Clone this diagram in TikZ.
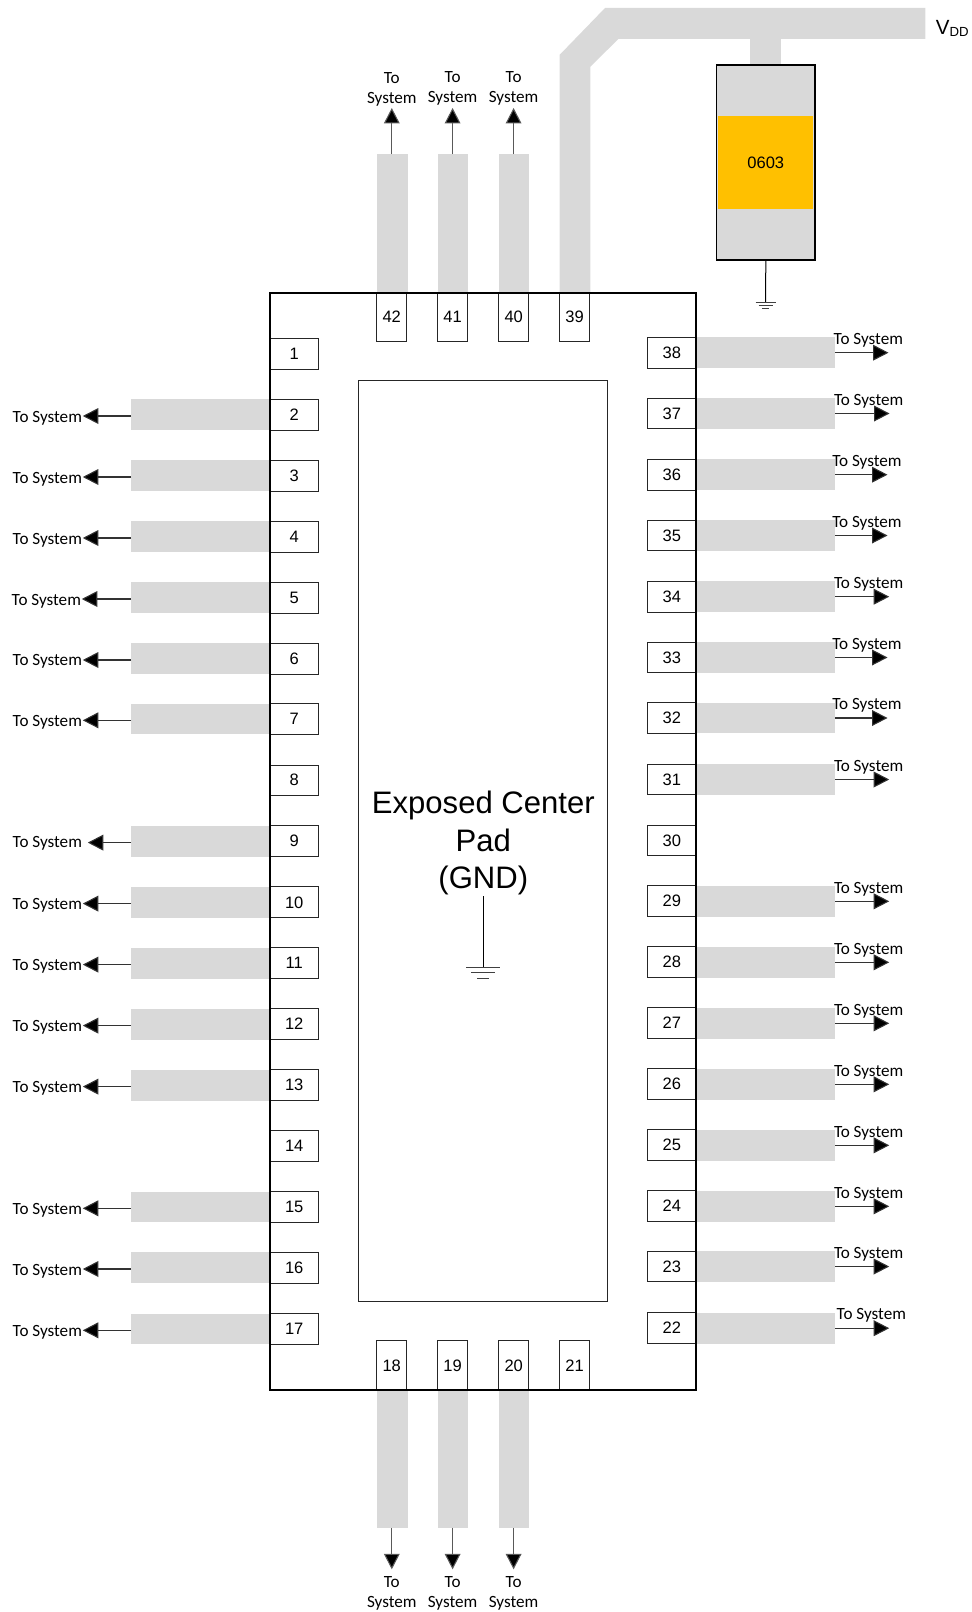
\documentclass[tikz,border=0pt]{standalone}
\usepackage{fontspec}
\setmainfont{Liberation Sans}
\newfontfamily\sysfont{Carlito}
\usetikzlibrary{arrows.meta}
\definecolor{tracegray}{HTML}{D9D9D9}
\definecolor{bodyorange}{HTML}{FFC000}
\def\px{0.75pt}
\tikzset{
  x=0.75pt,y=-0.75pt,
  tracebar/.style={fill=tracegray,draw=none,inner sep=0pt,outer sep=0pt},
  pinbox/.style={draw=black!85,fill=white,line width=0.75pt,inner sep=0pt,outer sep=0pt,
    font=\fontsize{12.4}{14}\selectfont},
  hpin/.style={pinbox,minimum width=49*\px,minimum height=30.7*\px},
  vpin/.style={pinbox,minimum width=30.5*\px,minimum height=49*\px},
  htrace/.style={tracebar,minimum width=139*\px,minimum height=30.7*\px},
  vtrace/.style={tracebar,minimum width=30.7*\px,minimum height=138*\px},
  systext/.style={inner sep=0pt,outer sep=0pt,font=\sysfont\fontsize{12.85}{14}\selectfont},
  syslabel/.style={systext,anchor=base west},
  sysword/.style={systext,anchor=base},
  sysarrow/.style={draw=black!80,line width=0.8pt,-{Triangle[length=11.6pt,width=11.8pt,fill=black]}},
  groundbar/.style={draw=black!75,line width=0.75pt},
  groundlead/.style={draw=black,line width=0.75pt},
}
\begin{document}
\begin{tikzpicture}
\useasboundingbox (0,0) rectangle (971,1612);
% supply trace
\fill[tracegray] (559.5,292.3) -- (559.5,55) -- (605,8) -- (925.3,8) -- (925.3,39) -- (618.4,39) -- (590.3,66.7) -- (590.3,292.3) -- cycle;
\node[tracebar,minimum width=31*\px,minimum height=26*\px] (vddstub) at (765.8,52) {};
% left traces
\foreach \n/\y in {2/414.7,3/475.7,4/536.7,5/597.7,6/658.7,7/719,9/841.3,10/902.3,11/963.3,12/1024.3,13/1085.3,15/1207,16/1267.7,17/1329}
  \node[htrace] (tl\n) at (200.5,\y) {};
% right traces
\foreach \n/\y in {38/352.7,37/413.5,36/474.7,35/535.5,34/596.7,33/657.5,32/718,31/779.5,29/901.3,28/962.3,27/1023.3,26/1084.3,25/1145.3,24/1206.3,23/1266.5,22/1328.2}
  \node[htrace] (tr\n) at (765.8,\y) {};
% top and bottom traces
\foreach \n/\x in {42/392.3,41/453.1,40/514.1}
  \node[vtrace] (tt\n) at (\x,223.2) {};
\foreach \n/\x in {18/392.3,19/453.1,20/514.1}
  \node[vtrace] (tb\n) at (\x,1458.8) {};
% pins (third value: raise of the digits)
\foreach \n/\y/\d in {1/353.7/0,2/414.7/0,3/475.7/0,4/536.7/0,5/597.7/0,6/658.7/0,7/719/0,8/780.5/0.75,9/841.3/0.75,10/902.3/0,11/963.3/0,12/1024.3/0.75,13/1085.3/0.75,14/1146.3/0.75,15/1207/0,16/1267.7/0,17/1329/0}
  \node[hpin] (p\n) at (294.2,\y) {\raisebox{\d pt}{\n}};
\foreach \n/\y/\d in {38/352.7/0,37/413.5/0,36/474.7/0,35/535.5/0,34/596.7/0,33/657.5/0,32/718/0,31/779.5/0,30/840.5/0,29/901.3/0.75,28/962.3/0.75,27/1023.3/0.75,26/1084.3/0.75,25/1145.3/0.75,24/1206.3/0.75,23/1266.5/0,22/1328.2/0}
  \node[hpin] (p\n) at (671.9,\y) {\raisebox{\d pt}{\n}};
\foreach \n/\x in {42/391.7,41/452.5,40/513.7,39/574.5}
  \node[vpin] (p\n) at (\x,316.8) {\n};
\foreach \n/\x in {18/391.7,19/452.5,20/513.7,21/574.5}
  \node[vpin] (p\n) at (\x,1365.3) {\n};
% chip body and centre pad
\draw[black,line width=1.5pt,line join=miter] (270,292.6) rectangle (696.4,1390);
\node[draw=black!85,line width=0.75pt,inner sep=0pt,outer sep=0pt,minimum width=249.5*\px,minimum height=921*\px] (pad) at (483,841.4) {};
\node[inner sep=0pt,outer sep=0pt,anchor=base,font=\fontsize{23.3}{28}\selectfont] (padA) at (483.3,813.3) {Exposed Center};
\node[inner sep=0pt,outer sep=0pt,anchor=base,font=\fontsize{23.3}{28}\selectfont] (padB) at (483.3,851.5) {Pad};
\node[inner sep=0pt,outer sep=0pt,anchor=base,font=\fontsize{23.3}{28}\selectfont] (padC) at (483.3,888.3) {(GND)};
\coordinate (padlead) at (483,896);
\coordinate (padgnd) at (483,967.3);
\draw[groundlead] (padlead) -- (padgnd);
\draw[groundbar] (466.2,967.3) -- (499.8,967.3);
\draw[groundbar] (471.3,972.5) -- (494.7,972.5);
\draw[groundbar] (477.3,978.3) -- (488.7,978.3);
% decoupling capacitor
\node[tracebar,draw=black,line width=1.3pt,minimum width=98.4*\px,minimum height=195.3*\px] (cap) at (765.8,162.3) {};
\node[fill=bodyorange,inner sep=0pt,outer sep=0pt,minimum width=95*\px,minimum height=93*\px,font=\fontsize{12.4}{14}\selectfont] (capbody) at (765.8,162.5) {0603};
\coordinate (capgnd) at (765.6,302);
\draw[groundlead] (cap.south) -- (capgnd);
\draw[groundbar] (755.6,302) -- (775.6,302);
\draw[groundbar] (758.6,305.3) -- (772.6,305.3);
\draw[groundbar] (761.9,308.5) -- (769.3,308.5);
% VDD
\node[inner sep=0pt,anchor=base west,font=\fontsize{15.4}{18}\selectfont] (vdd) at (935.7,35) {V};
\node[inner sep=0pt,anchor=base west,font=\fontsize{9.9}{12}\selectfont] (vddsub) at (949.3,37) {DD};
% left arrows and labels (last value: label baseline offset)
\foreach \n/\y/\tip/\lab/\b in {2/414.7/82.8/12.7/7.6,3/475.7/82.8/12.7/7.6,4/536.7/82.8/12.7/7.6,5/597.7/81.8/11.7/7.6,6/658.7/82.8/12.7/6.6,7/719/82.8/12.7/7.6,9/841.3/87.8/12.7/6.6,10/902.3/82.8/12.7/7.6,11/963.3/82.8/12.7/7.6,12/1024.3/82.8/12.7/7.6,13/1085.3/82.8/12.7/7.6,15/1207/82.8/12.7/7.6,16/1267.7/82.8/12.7/7.6,17/1329/82.8/12.7/7.6}{
  \coordinate (al\n) at (\tip,\y+1.3);
  \draw[sysarrow] (tl\n.west |- al\n) -- (al\n);
  \node[syslabel] (ll\n) at (\lab,\y+\b) {To System};
}
% right arrows and labels
\foreach \n/\y/\dx/\lab in {38/352.7/-0.5/833.7,37/413.5/0.5/834,36/474.7/-1.5/832.3,35/535.5/-1.5/832.3,34/596.7/0.2/834,33/657.5/-1.5/832.3,32/718/-1.5/832.3,31/779.5/0.2/834,29/901.3/0.2/834,28/962.3/0.2/834,27/1023.3/0.2/834,26/1084.3/0.2/834,25/1145.3/0.2/834,24/1206.3/0.2/834,23/1266.5/0.2/834,22/1328.2/0.2/836.7}{
  \coordinate (ar\n) at (889+\dx,\y);
  \draw[sysarrow] (tr\n.east) -- (ar\n);
  \node[syslabel] (lr\n) at (\lab,\y-8.3) {To System};
}
% top arrows and labels
\foreach \n/\x/\base in {42/391.8,41/452.6,40/513.6}{
  \coordinate (at\n) at (\x,108);
}
\foreach \n/\base in {42/0,41/-1,40/-1}{
  \draw[sysarrow,draw=black!65] (tt\n.north -| at\n) -- (at\n);
  \path (at\n) ++(0,-24.3+\base) node[sysword] (lta\n) {To} ++(0,19.6) node[sysword] (ltb\n) {System};
}
% bottom arrows and labels
\foreach \n/\x in {18/391.8,19/452.6,20/513.6}{
  \coordinate (ab\n) at (\x,1569.3);
  \draw[sysarrow,draw=black!65] (tb\n.south -| ab\n) -- (ab\n);
  \node[sysword] (lba\n) at (\x,1587.6) {To};
  \node[sysword] (lbb\n) at (\x,1607.2) {System};
}
\end{tikzpicture}
\end{document}
